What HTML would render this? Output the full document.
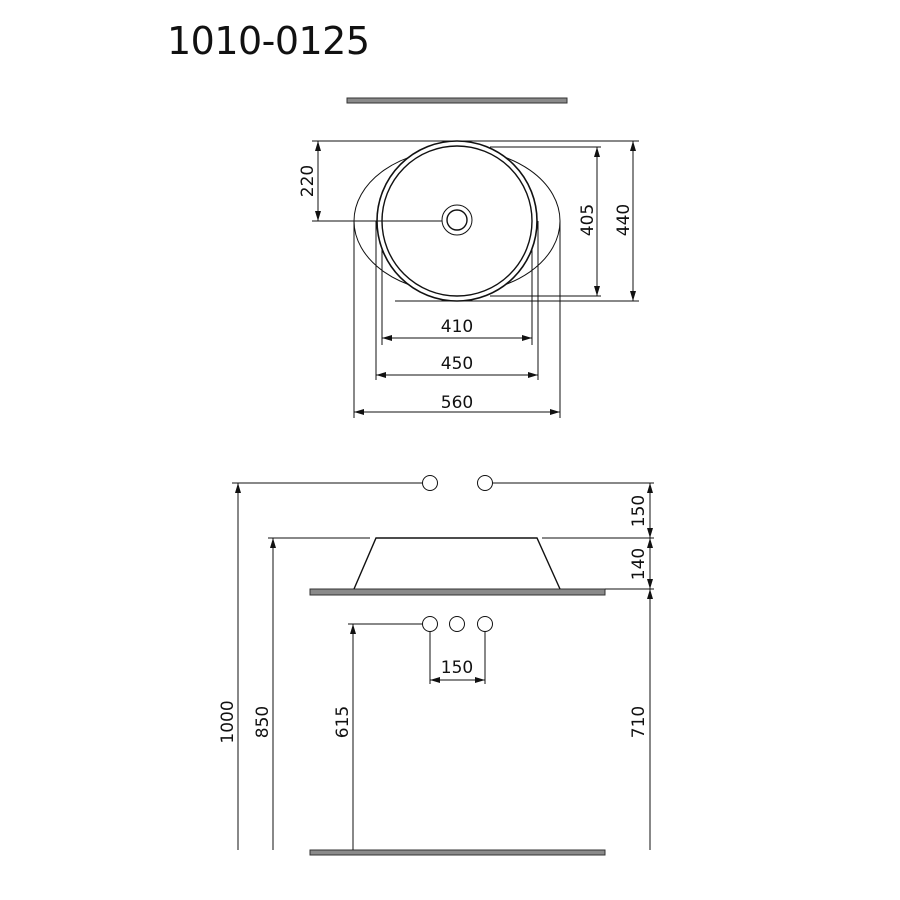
<!DOCTYPE html>
<html><head><meta charset="utf-8"><style>body{margin:0;background:#fff}svg{display:block}</style></head><body>
<svg width="900" height="900" viewBox="0 0 900 900" xmlns="http://www.w3.org/2000/svg">
<defs>
<marker id="a" viewBox="0 0 10 6" refX="10" refY="3" markerWidth="10" markerHeight="6" orient="auto-start-reverse" markerUnits="userSpaceOnUse"><path d="M0,0L10,3L0,6z" fill="#111"/></marker>
</defs>
<rect width="900" height="900" fill="#fff"/>
<text x="167" y="54" font-family="DejaVu Sans, Liberation Sans, sans-serif" font-size="38" textLength="203" fill="#111">1010-0125</text>
<g fill="#8a8a8a" stroke="#333" stroke-width="1">
<rect x="347" y="98" width="220" height="5"/>
<rect x="310" y="589" width="295" height="6"/>
<rect x="310" y="850" width="295" height="5"/>
</g>
<g fill="none" stroke="#111" stroke-width="1">
<!-- top view -->
<path d="M312,141H639M395,301H639M490,147H601M490,296H601M312,221H442"/>
<path d="M382,221V345M532,221V345M376,221V380M538,221V380M354,221V418M560,221V418"/>
<ellipse cx="457" cy="221" rx="103" ry="72"/>
<circle cx="457" cy="221" r="80" stroke-width="1.6" fill="#fff"/>
<circle cx="457" cy="221" r="75" stroke-width="1.4"/>
<path d="M312,221H442"/>
<circle cx="457" cy="220" r="15" fill="#fff"/>
<circle cx="457" cy="220" r="10" stroke-width="1.4"/>
<path d="M382,296V345M532,296V345M376,230V380M538,230V380"/>
<path d="M318,141V221" marker-start="url(#a)" marker-end="url(#a)"/>
<path d="M597,147V296" marker-start="url(#a)" marker-end="url(#a)"/>
<path d="M633,141V301" marker-start="url(#a)" marker-end="url(#a)"/>
<path d="M382,338H532" marker-start="url(#a)" marker-end="url(#a)"/>
<path d="M376,375H538" marker-start="url(#a)" marker-end="url(#a)"/>
<path d="M354,412H560" marker-start="url(#a)" marker-end="url(#a)"/>
<!-- side view -->
<circle cx="430" cy="483" r="7.5"/><circle cx="485" cy="483" r="7.5"/>
<circle cx="430" cy="624" r="7.5"/><circle cx="457" cy="624" r="7.5"/><circle cx="485" cy="624" r="7.5"/>
<path d="M232,483H422.5M492.5,483H654M268,538H370M542,538H654M605,589H654M348,624H422.5"/>
<path d="M354,589L376,538H537L560,589" stroke-width="1.4"/>
<path d="M430,631.5V684M485,631.5V684"/>
<path d="M430,680H485" marker-start="url(#a)" marker-end="url(#a)"/>
<path d="M238,483V850" marker-start="url(#a)"/>
<path d="M273,538V850" marker-start="url(#a)"/>
<path d="M353,624V850" marker-start="url(#a)"/>
<path d="M650,483V538" marker-start="url(#a)" marker-end="url(#a)"/>
<path d="M650,538V589" marker-start="url(#a)" marker-end="url(#a)"/>
<path d="M650,589V850" marker-start="url(#a)"/>
</g>
<g font-family="DejaVu Sans, Liberation Sans, sans-serif" font-size="17" fill="#111" text-anchor="middle">
<text x="457" y="332">410</text>
<text x="457" y="369">450</text>
<text x="457" y="408">560</text>
<text x="457" y="673">150</text>
<text transform="translate(313,181) rotate(-90)">220</text>
<text transform="translate(593,220) rotate(-90)">405</text>
<text transform="translate(629,220) rotate(-90)">440</text>
<text transform="translate(233,722) rotate(-90)">1000</text>
<text transform="translate(268,722) rotate(-90)">850</text>
<text transform="translate(348,722) rotate(-90)">615</text>
<text transform="translate(644,511) rotate(-90)">150</text>
<text transform="translate(644,564) rotate(-90)">140</text>
<text transform="translate(644,722) rotate(-90)">710</text>
</g>
</svg>
</body></html>
